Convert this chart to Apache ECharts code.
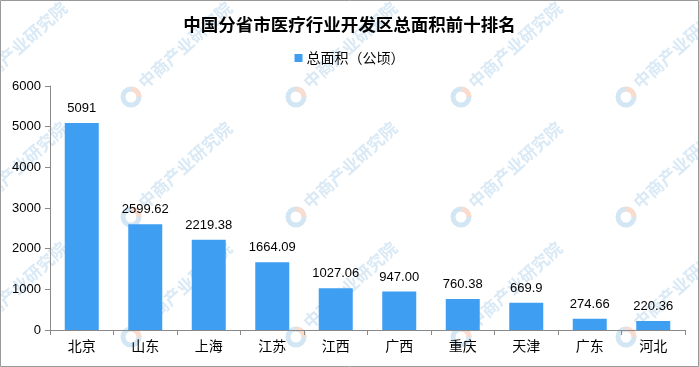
<!DOCTYPE html>
<html>
<head>
<meta charset="utf-8">
<script src="https://cdn.jsdelivr.net/npm/echarts@6/dist/echarts.min.js"></script>
<style>
html,body{margin:0;padding:0;background:#fff;}
#c{width:699px;height:367px;}
</style>
</head>
<body>
<div id="c"></div>
<script>
const categories = ['北京','山东','上海','江苏','江西','广西','重庆','天津','广东','河北'];
const values = [5091, 2599.62, 2219.38, 1664.09, 1027.06, 947.00, 760.38, 669.9, 274.66, 220.36];
const valueLabels = ['5091','2599.62','2219.38','1664.09','1027.06','947.00','760.38','669.9','274.66','220.36'];
const yTicks = [0, 1000, 2000, 3000, 4000, 5000, 6000];

const chart = echarts.init(document.getElementById('c'), null, {renderer: 'canvas'});

// watermark decoration
const wm = [];
const ang = 42 * Math.PI / 180;
for (let i = -1; i < 5; i++) {
  for (let j = -1; j < 3; j++) {
    const lx = -34 + 165 * i, ly = 97 + 120 * j;
    wm.push({
      type: 'arc', x: lx, y: ly, z: 0, silent: true,
      shape: {cx: 0, cy: 0, r: 8, startAngle: 0, endAngle: Math.PI * 2},
      style: {stroke: '#d3e6f3', lineWidth: 5, fill: null}
    });
    wm.push({
      type: 'arc', x: lx, y: ly, z: 0, silent: true,
      shape: {cx: 0, cy: 0, r: 8, startAngle: -Math.PI / 2, endAngle: 0},
      style: {stroke: '#fadccf', lineWidth: 5, fill: null}
    });
    wm.push({
      type: 'text', x: lx + 10, y: ly - 12, rotation: ang, z: 0, silent: true,
      style: {text: '中商产业研究院', fill: '#d9e9f5', font: 'bold 17px "Noto Sans CJK SC"', textAlign: 'left', textVerticalAlign: 'middle'}
    });
  }
}
wm.push({
  type: 'rect', z: 10, silent: true,
  shape: {x: 0.5, y: 0.5, width: 698, height: 366},
  style: {stroke: '#999', lineWidth: 1, fill: null}
});

chart.setOption({
  backgroundColor: '#fff',
  animation: false,
  graphic: wm,
  title: {
    text: '中国分省市医疗行业开发区总面积前十排名',
    left: 'center', top: 11,
    textStyle: {fontSize: 17.5, fontWeight: 'bold', color: '#000', fontFamily: '"Noto Sans CJK SC"'}
  },
  legend: {
    data: ['总面积（公顷）'],
    top: 46, left: 'center',
    itemWidth: 8, itemHeight: 8, itemGap: 10,
    icon: 'rect',
    textStyle: {fontSize: 14, color: '#000', fontFamily: '"Noto Sans CJK SC"', padding: [0, 0, 0, -1]}
  },
  grid: {left: 50, right: 14, top: 86, bottom: 37, containLabel: false},
  xAxis: {
    type: 'category',
    data: categories,
    axisLine: {lineStyle: {color: '#898989', width: 1}},
    axisTick: {show: true, length: 5, lineStyle: {color: '#898989'}},
    axisLabel: {fontSize: 14, color: '#000', margin: 9, fontFamily: '"Noto Sans CJK SC"', interval: 0}
  },
  yAxis: {
    type: 'value',
    min: yTicks[0], max: yTicks[yTicks.length - 1], interval: 1000,
    axisLine: {show: true, lineStyle: {color: '#898989', width: 1}},
    axisTick: {show: true, length: 5, lineStyle: {color: '#898989'}},
    splitLine: {show: false},
    axisLabel: {fontSize: 13, color: '#000', margin: 9, fontFamily: '"Liberation Sans"', formatter: v => String(v)}
  },
  series: [{
    name: '总面积（公顷）',
    type: 'bar',
    data: values,
    barWidth: 34,
    itemStyle: {color: '#3e9ef2'},
    label: {
      show: true, position: 'top', distance: 8,
      color: '#000', fontSize: 13, fontFamily: '"Liberation Sans"',
      formatter: p => valueLabels[p.dataIndex]
    }
  }]
});
</script>
</body>
</html>
